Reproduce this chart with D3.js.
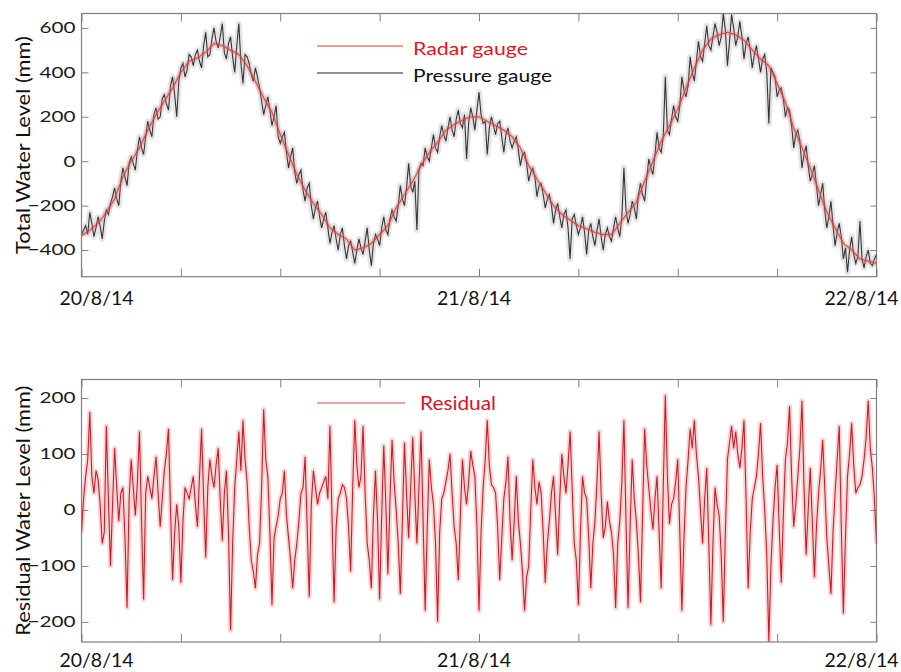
<!DOCTYPE html>
<html><head><meta charset="utf-8">
<script src="https://cdn.jsdelivr.net/npm/d3@7"></script>
<style>
body{margin:0;background:#fff;}
svg{display:block;font-family:Lato,"Open Sans",sans-serif;}
</style></head><body>
<svg id="chart" width="901" height="672"></svg>
<script>
// ---------- data ----------
const startTime = "2014-08-20T00:00";
const endTime = "2014-08-22T00:00";
const radarStepMin = 30;
const pressureStepMin = 7.5;
const residualStepMin = 7.5;

const radarGauge = [
 -335,-310,-280,-230,-170,-70,0,60,140,210,270,330,400,450,465,490,
 530,520,500,480,430,360,285,220,120,30,-60,-130,-190,-240,-300,-330,
 -350,-400,-390,-370,-330,-290,-210,-150,-90,-20,40,85,140,165,185,200,
 200,180,160,140,110,60,-20,-80,-140,-200,-240,-265,-290,-305,-320,-330,
 -330,-280,-230,-185,-90,0,90,160,235,330,420,500,550,570,580,570,
 545,500,460,430,350,265,150,60,-30,-130,-230,-300,-370,-400,-440,-450,
 -460];

const pressureGauge = [
 -330,-310,-290,-330,-230,-280,-340,-300,-250,-290,-350,-270,-220,-240,-190,-160,
 -120,-170,-200,-90,-30,-70,-110,-10,20,-10,-40,50,110,60,30,110,
 180,140,110,210,240,190,200,280,300,260,230,340,380,300,200,360,
 420,440,380,410,480,470,430,480,500,450,420,520,580,470,480,550,
 600,540,510,560,620,490,460,530,560,470,400,520,620,440,350,480,
 470,440,390,360,420,380,330,270,210,250,290,230,160,200,250,110,
 80,110,130,40,-30,20,60,-50,-100,-60,-40,-130,-180,-120,-100,-200,
 -260,-210,-180,-250,-300,-260,-230,-300,-370,-320,-290,-350,-400,-330,-300,-380,
 -440,-380,-360,-410,-460,-400,-350,-390,-420,-360,-300,-400,-470,-370,-330,-350,
 -380,-300,-250,-310,-330,-260,-220,-250,-270,-200,-110,-170,-200,-120,-10,-110,
 -140,-90,-310,-40,-10,-20,60,20,0,60,120,60,40,110,160,120,
 90,150,200,140,110,190,230,170,150,210,10,170,240,200,140,230,
 310,210,170,180,30,150,200,160,120,170,180,110,40,120,150,90,
 60,90,110,50,-20,30,40,-10,-90,-50,-30,-70,-160,-110,-100,-150,
 -210,-170,-150,-200,-280,-220,-190,-250,-300,-240,-220,-300,-440,-260,-240,-290,
 -330,-300,-250,-320,-420,-310,-280,-340,-380,-310,-260,-340,-400,-330,-300,-340,
 -360,-300,-250,-300,-340,-250,-30,-220,-280,-240,-180,-210,-260,-150,-100,-150,
 -180,-80,10,-30,-60,30,130,60,40,110,380,140,120,190,250,200,
 180,250,380,320,290,340,470,400,360,450,540,470,450,530,610,520,
 500,560,620,580,520,560,665,590,430,540,660,600,520,560,630,560,
 460,530,560,500,420,480,520,460,400,460,480,400,170,420,400,380,
 290,320,330,280,200,240,230,160,60,120,140,90,-30,30,70,-20,
 -90,-60,-20,-110,-200,-150,-100,-220,-300,-250,-180,-290,-380,-320,-280,-340,
 -440,-390,-500,-400,-340,-420,-460,-430,-270,-440,-480,-430,-400,-460,-470,-440,
 -420];

const residual = [
 -40,20,60,90,175,60,30,70,55,10,-60,-40,150,20,-100,10,
 110,40,-20,30,40,-50,-175,20,90,40,-10,50,140,-20,-160,30,
 60,40,20,60,95,30,-30,20,70,100,145,0,-125,-40,10,-30,
 -130,-20,40,30,20,40,60,10,-30,60,145,20,-85,40,90,60,
 40,80,110,20,-55,30,70,-40,-215,-60,40,90,140,70,160,90,
 50,-30,-90,-110,-140,-80,-60,40,180,90,60,-40,-170,-50,-30,-10,
 20,30,70,-10,-50,-90,-140,-90,-60,-20,30,40,95,-30,-155,10,
 70,40,10,30,40,50,60,20,150,-10,-165,-30,20,30,45,40,
 20,-30,-110,40,160,80,40,60,150,30,-60,-90,-140,-10,70,-20,
 -160,-10,115,10,-115,20,125,50,0,-60,-150,-20,120,30,-50,40,
 130,30,-60,40,140,-20,-180,-30,90,40,10,-60,-200,-40,20,30,
 50,70,100,30,-30,-60,-125,-10,90,40,10,50,105,80,60,-30,
 -180,-40,40,90,160,80,45,40,30,-30,-125,-50,20,50,95,-20,
 -90,-20,60,-20,-60,-110,-180,-120,-100,0,90,40,10,50,30,-40,
 -130,-60,-20,30,60,-10,-80,20,100,60,30,80,140,40,-60,-90,
 -170,-40,60,30,20,-50,-140,-60,-20,50,140,30,-50,-30,15,-20,
 -40,-80,-175,-60,-20,50,160,-20,-175,-30,90,20,-20,-80,-165,-10,
 145,80,40,0,-35,20,60,-40,-140,40,205,60,-25,10,20,50,
 90,-40,-180,-50,40,90,145,110,160,100,60,0,-60,20,75,-60,
 -205,-60,40,10,-10,-80,-200,-40,90,120,150,110,140,100,75,110,
 160,20,-140,-40,20,40,60,100,155,60,0,-80,-235,-100,-20,40,
 80,-30,-130,-10,90,120,185,60,-30,10,60,110,195,40,-80,0,
 75,-20,-120,-30,30,70,125,40,-50,-100,-150,-40,30,90,150,-30,
 -185,-50,60,100,155,80,30,40,45,60,90,130,195,110,75,20,
 -60];

const totalTicks = [-400,-200,0,200,400,600];
const residualTicks = [-200,-100,0,100,200];
const dateLabels = ["20/8/14","21/8/14","22/8/14"];
const topLegend = ["Radar gauge","Pressure gauge"];
const bottomLegend = ["Residual"];
const yTitles = ["Total Water Level (mm)","Residual Water Level (mm)"];

// ---------- setup ----------
const parse = d3.timeParse("%Y-%m-%dT%H:%M");
const t0 = parse(startTime), t1 = parse(endTime);
const tMid = d3.timeDay.offset(t0, 1);
const svg = d3.select("#chart");

const x = d3.scaleTime().domain([t0, t1]).range([81.5, 876.5]);
const yTop = d3.scaleLinear().domain([-520, 665]).range([276.7, 13.5]);
const yBot = d3.scaleLinear().domain([-236, 233]).range([642, 379.5]);

function stretch(sel, factor){
  sel.each(function(){
    const w = this.getComputedTextLength();
    d3.select(this).attr("textLength", w*factor).attr("lengthAdjust","spacingAndGlyphs");
  });
}
function fixLength(sel, len){
  sel.attr("textLength", len).attr("lengthAdjust","spacingAndGlyphs");
}

function panel(y, ticks, id, labelDy){
  const [x0, x1] = x.range();
  const [yb, yt] = y.range();
  svg.append("clipPath").attr("id", id).append("rect")
    .attr("x", x0).attr("y", yt).attr("width", x1-x0).attr("height", yb-yt);
  const frameColor = "#808080";
  const gl = svg.append("g").attr("transform", `translate(${x0},0)`)
    .call(d3.axisLeft(y).tickValues(ticks).tickSizeInner(-7).tickSizeOuter(0).tickPadding(6));
  const gr = svg.append("g").attr("transform", `translate(${x1},0)`)
    .call(d3.axisRight(y).tickValues(ticks).tickSizeInner(-6).tickSizeOuter(0).tickFormat(""));
  const gb = svg.append("g").attr("transform", `translate(0,${yb})`)
    .call(d3.axisBottom(x).ticks(d3.timeHour.every(6)).tickSizeInner(-8).tickSizeOuter(0).tickFormat(""));
  const gt = svg.append("g").attr("transform", `translate(0,${yt})`)
    .call(d3.axisTop(x).ticks(d3.timeHour.every(6)).tickSizeInner(-8).tickSizeOuter(0).tickFormat(""));
  [gl,gr,gb,gt].forEach(g=>{
    g.select(".domain").remove();
    g.selectAll("line").attr("stroke", frameColor).attr("stroke-width",1);
  });
  gl.selectAll("text").attr("font-size", 15).attr("fill","#1a1a1a")
    .attr("font-family","Lato, sans-serif");
  stretch(gl.selectAll("text"), 1.38);
  svg.append("rect").attr("x", x0).attr("y", yt).attr("width", x1-x0).attr("height", yb-yt)
    .attr("fill","none").attr("stroke", frameColor).attr("stroke-width",1.2);
  const dates = [t0, tMid, t1];
  const anchors = ["start","middle","end"];
  const dx = [-22,-5,22];
  svg.append("g").selectAll("text").data(dateLabels).join("text")
    .attr("x", (d,i)=>x(dates[i])+dx[i])
    .attr("y", yb+labelDy)
    .attr("text-anchor", (d,i)=>anchors[i])
    .attr("font-size", 20).attr("fill","#111")
    .text(d=>d)
    .call(fixLength, 74);
}

panel(yTop, totalTicks, "clipTop", 28.5);
panel(yBot, residualTicks, "clipBot", 25);

[[yTop, yTitles[0], 218],[yBot, yTitles[1], 250]].forEach(([y,t,len])=>{
  const [yb, yt] = y.range();
  svg.append("text")
    .attr("transform", `translate(30,${(yb+yt)/2}) rotate(-90)`)
    .attr("text-anchor","middle").attr("font-size",19).attr("fill","#111")
    .text(t).call(fixLength, len);
});

// ---------- lines ----------
const timeAt = step => i => new Date(t0.getTime() + i*step*60000);
const tp = timeAt(pressureStepMin), tr = timeAt(radarStepMin), ts = timeAt(residualStepMin);

const linePressure = d3.line().x((d,i)=>x(tp(i))).y(d=>yTop(d));
const lineRadar = d3.line().x((d,i)=>x(tr(i))).y(d=>yTop(d));
const lineResidual = d3.line().x((d,i)=>x(ts(i))).y(d=>yBot(d));

const gTop = svg.append("g").attr("clip-path","url(#clipTop)");
gTop.append("path").datum(pressureGauge).attr("d", linePressure)
  .attr("fill","none").attr("stroke","#8a8a8a").attr("stroke-width",6).attr("stroke-opacity",0.22)
  .attr("stroke-linejoin","round");
gTop.append("path").datum(pressureGauge).attr("d", linePressure)
  .attr("fill","none").attr("stroke","#151515").attr("stroke-width",1.1).attr("stroke-opacity",0.85);
gTop.append("path").datum(radarGauge).attr("d", lineRadar)
  .attr("fill","none").attr("stroke","#e07070").attr("stroke-width",5).attr("stroke-opacity",0.3);
gTop.append("path").datum(radarGauge).attr("d", lineRadar)
  .attr("fill","none").attr("stroke","#d63a3a").attr("stroke-width",1.3).attr("stroke-opacity",0.8);

const gBot = svg.append("g").attr("clip-path","url(#clipBot)");
gBot.append("path").datum(residual).attr("d", lineResidual)
  .attr("fill","none").attr("stroke","#f07070").attr("stroke-width",5).attr("stroke-opacity",0.3)
  .attr("stroke-linejoin","round");
gBot.append("path").datum(residual).attr("d", lineResidual)
  .attr("fill","none").attr("stroke","#c41e28").attr("stroke-width",1.1);

// ---------- legends ----------
const legTop = [{c:"#e03a3a", tc:"#e8141c", y:46}, {c:"#222", tc:"#111", y:73}];
const legLens = [115, 139];
topLegend.forEach((name,i)=>{
  svg.append("line").attr("x1",317).attr("x2",403).attr("y1",legTop[i].y).attr("y2",legTop[i].y)
    .attr("stroke",legTop[i].c).attr("stroke-width",1.2);
  svg.append("text").attr("x",413).attr("y",legTop[i].y+8.5).attr("font-size",17)
    .attr("fill",legTop[i].tc).text(name).call(fixLength, legLens[i]);
});
bottomLegend.forEach(name=>{
  svg.append("line").attr("x1",317).attr("x2",405).attr("y1",403).attr("y2",403)
    .attr("stroke","#d84050").attr("stroke-width",1.2);
  svg.append("text").attr("x",420).attr("y",410).attr("font-size",20)
    .attr("fill","#e0102a").text(name).call(fixLength, 76);
});
</script>
</body></html>
